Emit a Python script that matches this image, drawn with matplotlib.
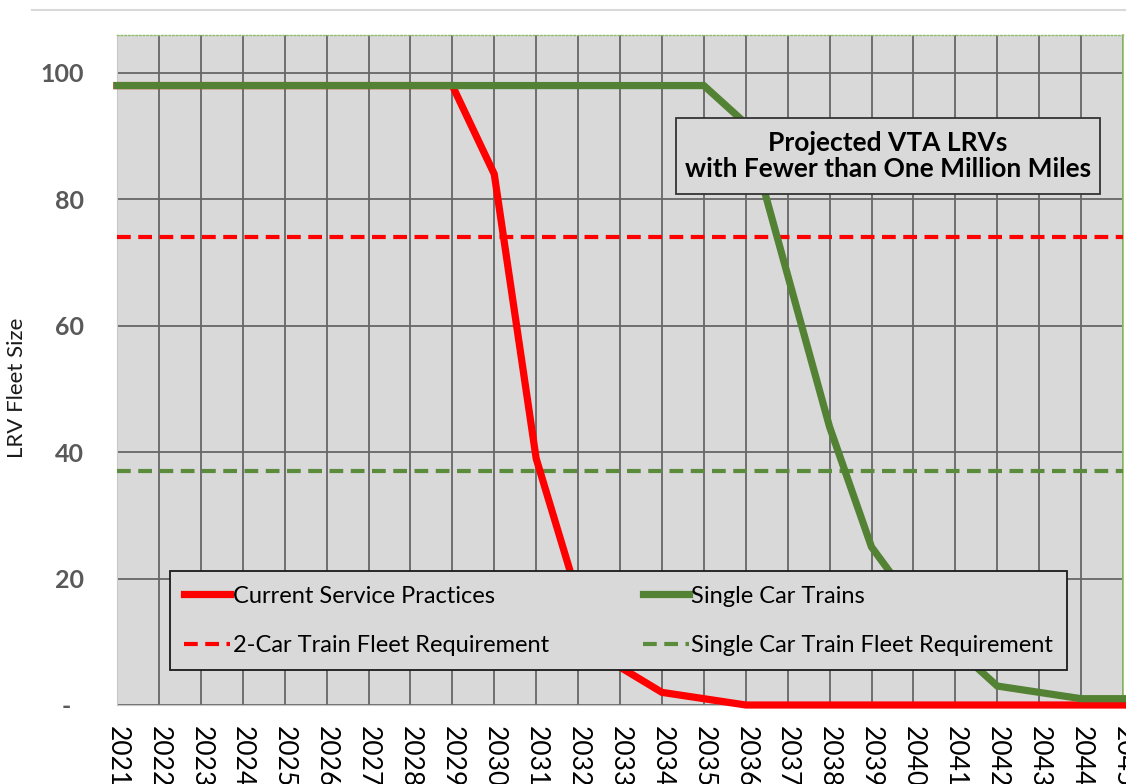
import matplotlib.pyplot as plt
from matplotlib.patches import Rectangle
from matplotlib.lines import Line2D

plt.rcParams['font.family'] = ['Lato', 'DejaVu Sans']

years = list(range(2021, 2046))
current_service = [98, 98, 98, 98, 98, 98, 98, 98, 98, 84, 39, 17, 6, 2, 1,
                   0, 0, 0, 0, 0, 0, 0, 0, 0, 0]
single_car = [98, 98, 98, 98, 98, 98, 98, 98, 98, 98, 98, 98, 98, 98, 98,
              92, 68, 44, 25, 16, 9, 3, 2, 1, 1]
two_car_req = 74
single_car_req = 37

ytick_vals = [0, 20, 40, 60, 80, 100]
ytick_labels = ['-  ', '20', '40', '60', '80', '100']

red = '#ff0000'
green = '#548235'

fig = plt.figure(figsize=(11.26, 7.84), dpi=100)
ax = fig.add_axes([117/1126, 79/784, 1006/1126, 670/784])
ax.set_facecolor('#d9d9d9')

# requirement lines first, solid lines on top
l_req2 = ax.axhline(two_car_req, color=red, lw=3, dashes=(3.3, 1.8), zorder=3)
l_req1 = ax.axhline(single_car_req, color='#5b8c3c', lw=3, dashes=(3.3, 1.8), zorder=3)
l_cur, = ax.plot(years, current_service, color=red, lw=5.2, zorder=4, clip_on=False,
                 solid_joinstyle='miter')
l_single, = ax.plot(years, single_car, color=green, lw=5.2, zorder=5, clip_on=False,
                    solid_joinstyle='miter')

ax.set_xlim(2021, 2045)
ax.set_ylim(0, 106)
ax.set_xticks(years)
ax.set_xticklabels([str(y) for y in years], rotation=-90, fontsize=19, color='#000000')
ax.set_yticks(ytick_vals)
ax.set_yticklabels(ytick_labels, fontsize=18, fontweight='bold', color='#595959')
ax.tick_params(axis='x', length=0, pad=15)
ax.tick_params(axis='y', length=0, pad=24)
for lab in ax.get_xticklabels():
    lab.set_va('top')

ax.grid(True, color='#666666', lw=1.3)
ax.set_axisbelow(True)

ax.spines['top'].set_color('#8fbc6a')
ax.spines['top'].set_linestyle(':')
ax.spines['top'].set_linewidth(1)
ax.spines['right'].set_color('#8fbc6a')
ax.spines['right'].set_linewidth(1.2)
ax.spines['left'].set_color('#c8c8c8')
ax.spines['bottom'].set_color('#c8c8c8')

ax.set_ylabel('LRV Fleet Size', fontsize=16, color='#1a1a1a')
ax.yaxis.set_label_coords(-0.0895, 0.473)

leg = ax.legend([l_cur, l_req2, l_single, l_req1],
                ['Current Service Practices', '2-Car Train Fleet Requirement',
                 'Single Car Trains', 'Single Car Train Fleet Requirement'],
                loc='lower left', bbox_to_anchor=(0.0527, 0.0522, 0.8916, 0.1537),
                mode='expand', ncol=2, fontsize=17, frameon=True, fancybox=False,
                borderpad=0.6, labelspacing=1.2, handlelength=1.95,
                handletextpad=0.1, borderaxespad=0)
leg.get_frame().set_facecolor('#d9d9d9')
leg.get_frame().set_edgecolor('#1a1a1a')
leg.get_frame().set_linewidth(1.3)
leg.get_frame().set_alpha(1)
leg.set_zorder(10)

# title box
ax.add_patch(Rectangle((0.5557, 0.7627), 0.4215, 0.1134, transform=ax.transAxes,
                       facecolor='#d9d9d9', edgecolor='#333333', lw=1.3, zorder=8))
ax.text(0.766, 0.819, 'Projected VTA LRVs\nwith Fewer than One Million Miles',
        transform=ax.transAxes, ha='center', va='center', fontsize=19,
        fontweight='bold', linespacing=1.1, zorder=9)

fig.add_artist(Line2D([32/1126, 1], [1 - 10/784, 1 - 10/784], color='#d9d9d9', lw=1.5))

fig.savefig('out.png', dpi=100)
